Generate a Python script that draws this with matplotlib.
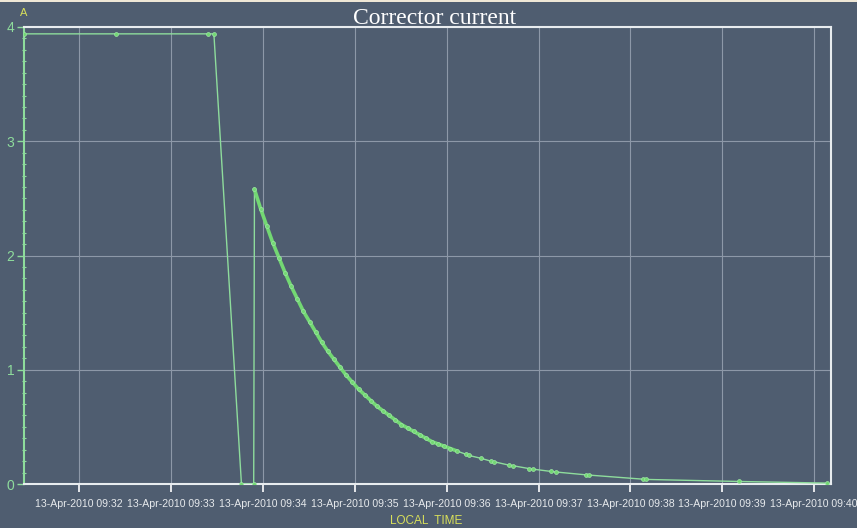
import numpy as np
import matplotlib
matplotlib.use('Agg')
import matplotlib.pyplot as plt
import matplotlib.dates as mdates
from matplotlib.patches import Rectangle
from matplotlib.ticker import MultipleLocator

# Corrector current log, 13-Apr-2010 (amperes)
step_times = ['2010-04-13T09:31:24', '2010-04-13T09:32:24', '2010-04-13T09:33:24',
              '2010-04-13T09:33:28', '2010-04-13T09:33:46', '2010-04-13T09:33:54']
step_values = [3.94, 3.94, 3.94, 3.94, 0.0, 0.0]

decay_start = '2010-04-13T09:33:54.500'
# seconds after decay_start
decay_offsets = [0, 4, 8, 12, 16, 20, 24, 28, 32, 36, 40, 44, 48, 52, 56, 60, 64, 68,
                 72, 76, 80, 84, 88, 92, 96, 100, 104, 108, 112, 116, 120, 124, 128, 132,
                 138.1, 140.0, 147.9, 154.4, 156.4, 166.2, 168.8, 179.3, 181.9, 193.7,
                 196.9, 216.6, 218.5, 253.9, 255.8, 316.7, 373.6]
decay_values = [2.58, 2.41, 2.26, 2.11, 1.98, 1.85, 1.73, 1.62, 1.51, 1.42, 1.33, 1.24,
                1.16, 1.09, 1.02, 0.95, 0.89, 0.83, 0.78, 0.73, 0.68, 0.64, 0.60, 0.56,
                0.52, 0.49, 0.46, 0.43, 0.40, 0.37, 0.35, 0.33, 0.31, 0.29,
                0.26, 0.25, 0.225, 0.20, 0.195, 0.165, 0.16, 0.135, 0.13, 0.11,
                0.105, 0.08, 0.078, 0.042, 0.04, 0.022, 0.008]
n_dense = 34  # closely logged samples right after the jump

x_start = '2010-04-13T09:31:24'
x_end = '2010-04-13T09:40:11'

bg = '#4f5d70'
green = '#73d873'
pale_green = '#8edc9c'
yellow = '#d9e05a'

step_t = np.array(step_times, dtype='datetime64[ms]')
decay_t = np.datetime64(decay_start, 'ms') + (np.array(decay_offsets) * 1000).astype('timedelta64[ms]')
all_t = np.concatenate([step_t, decay_t]).astype('O')
all_v = np.concatenate([step_values, decay_values])

fig = plt.figure(figsize=(8.57, 5.28), dpi=100, facecolor=bg)
ax = fig.add_axes([24 / 857, 44 / 528, 807 / 857, 457 / 528], facecolor=bg)

ax.plot(all_t, all_v, color=pale_green, lw=1.0, zorder=3)
ax.plot(decay_t[:n_dense].astype('O'), decay_values[:n_dense], color=green, lw=2.6,
        zorder=4, solid_capstyle='round')
ax.plot(all_t, all_v, ls='none', marker='o', ms=2.8, color=green, mec='#9ee6a6',
        mew=0.5, zorder=5)

ax.set_xlim(np.datetime64(x_start).astype('O'), np.datetime64(x_end).astype('O'))
ax.set_ylim(0, 4)

ax.xaxis.set_major_locator(mdates.MinuteLocator())
ax.xaxis.set_major_formatter(mdates.DateFormatter('%d-%b-%Y %H:%M'))
ax.yaxis.set_major_locator(MultipleLocator(1))
ax.yaxis.set_minor_locator(MultipleLocator(0.1))
ax.yaxis.set_major_formatter(matplotlib.ticker.FormatStrFormatter('%d'))

ax.grid(True, which='major', color='#8d98a8', lw=0.8)
ax.set_axisbelow(True)

ax.tick_params(axis='x', which='major', colors='white', length=6, width=1.2,
               labelsize=7.6, labelcolor='#e6e9ec', pad=5)
ax.tick_params(axis='y', which='major', colors=pale_green, length=5, width=1,
               labelsize=10, labelcolor=pale_green, pad=2)
ax.tick_params(axis='y', which='minor', colors=pale_green, length=3, width=0.8,
               direction='inout')

for side in ('top', 'right', 'bottom'):
    ax.spines[side].set_color('#e8ecef')
    ax.spines[side].set_linewidth(1.5)
ax.spines['left'].set_color(pale_green)
ax.spines['left'].set_linewidth(1.5)

for lbl in ax.get_xticklabels():
    lbl.set_fontfamily('Liberation Sans')
for lbl in ax.get_yticklabels():
    lbl.set_fontfamily('Liberation Sans')

fig.text(435 / 857, 1 - 24 / 528, 'Corrector current', ha='center', va='baseline',
         fontsize=17, color='white', family='Liberation Serif')
fig.text(24 / 857, 1 - 13 / 528, 'A', ha='center', va='center', fontsize=8,
         color=yellow, family='Liberation Sans')
fig.text(426 / 857, 1 - 521 / 528, 'LOCAL  TIME', ha='center', va='center', fontsize=8.5,
         color=yellow, family='Liberation Sans')

# thin light strip along the top edge
fig.patches.append(Rectangle((0, 1 - 2 / 528), 1, 2 / 528, transform=fig.transFigure,
                             facecolor='#efe7d6', edgecolor='none'))

fig.savefig('out.png', dpi=100, facecolor=bg)
